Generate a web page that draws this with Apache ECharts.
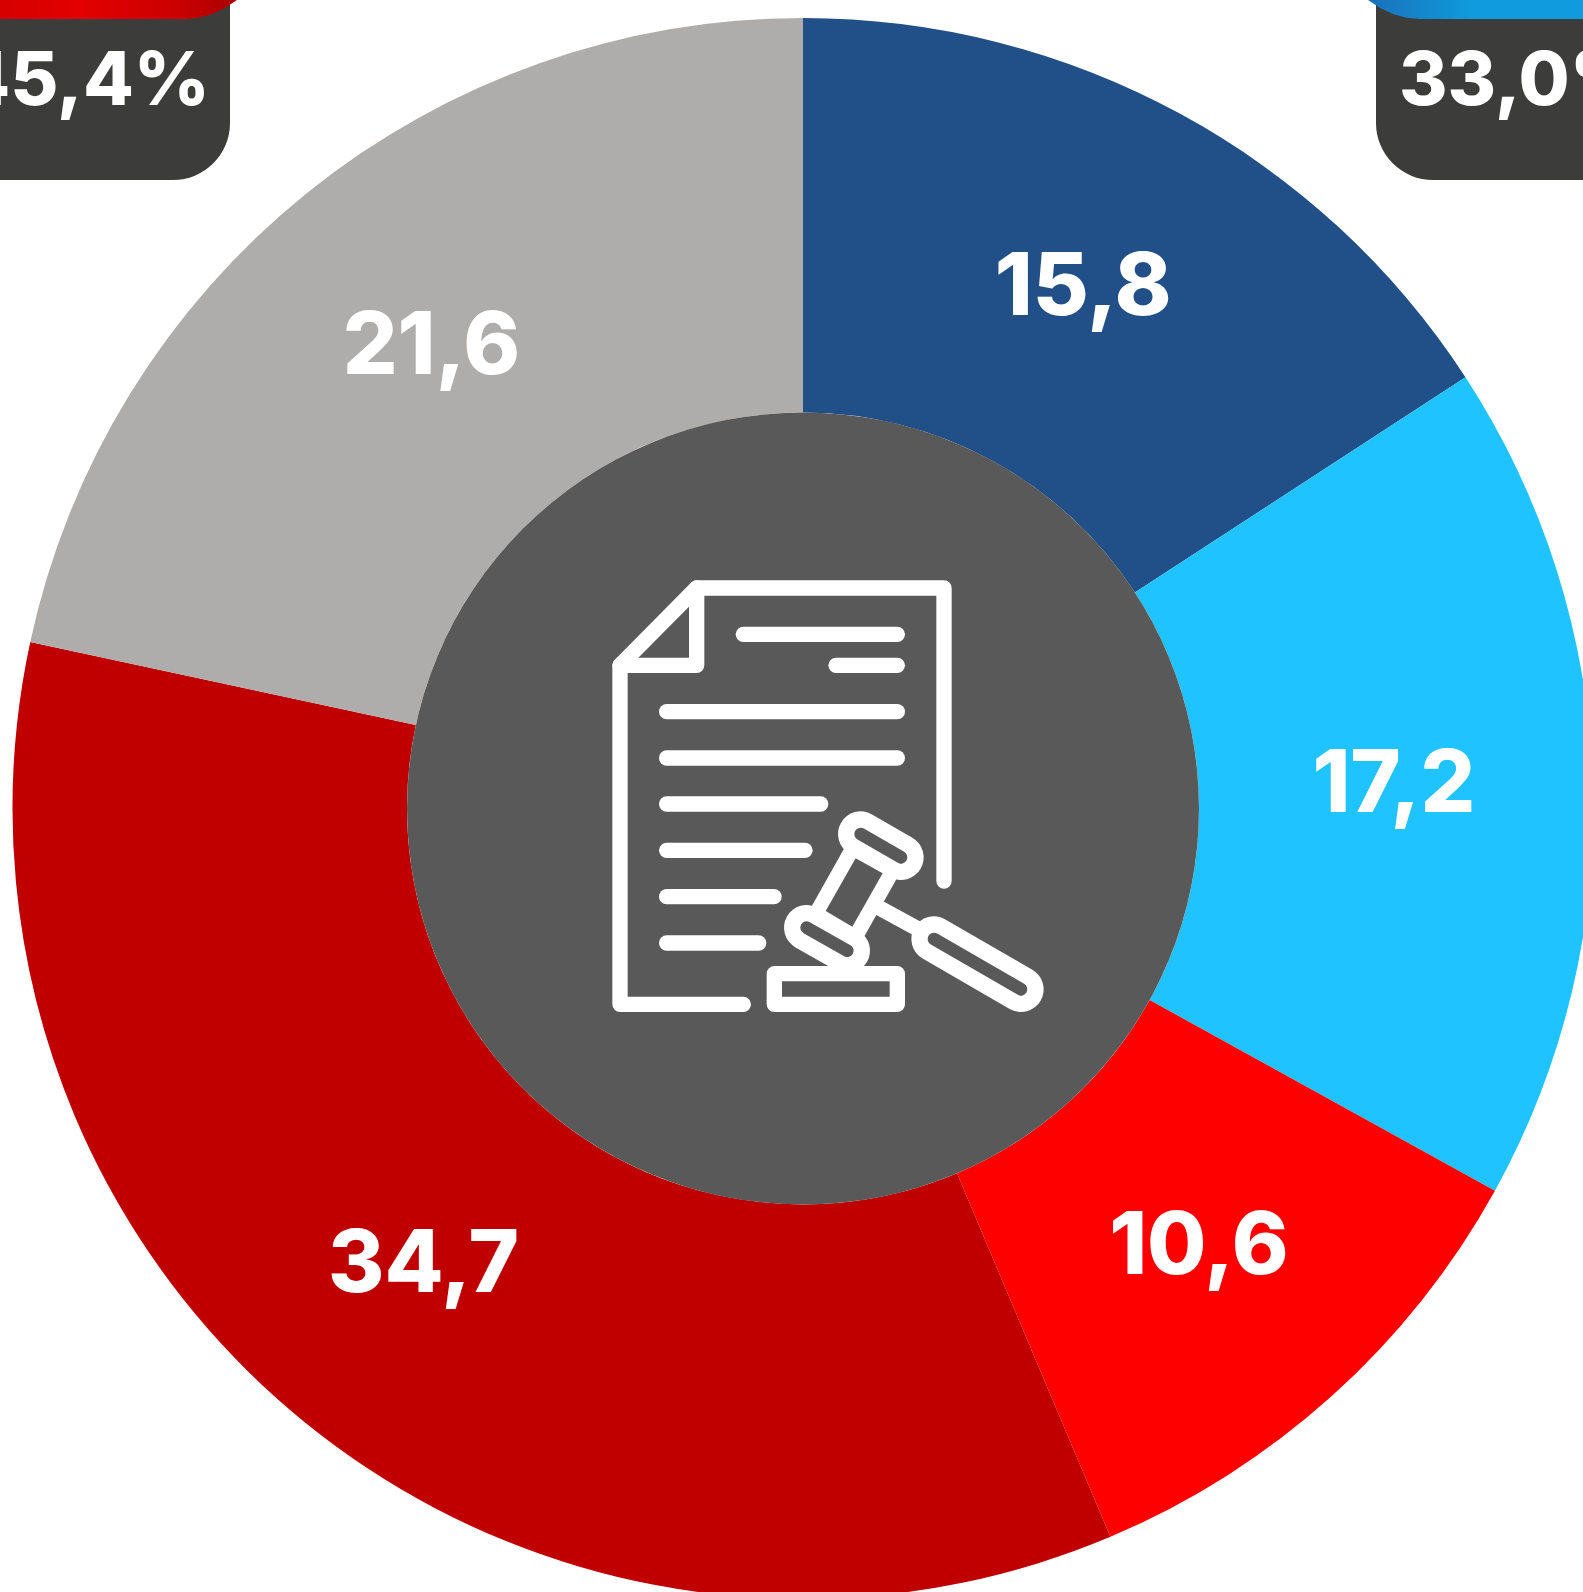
<!DOCTYPE html>
<html>
<head>
<meta charset="utf-8">
<title>Donut</title>
<style>
    html, body { margin: 0; padding: 0; background: #fff; overflow: hidden; }
    #chart { width: 1583px; height: 1592px; }
</style>
<script src="https://cdn.jsdelivr.net/npm/echarts@6/dist/echarts.min.js"></script>
</head>
<body>
<div id="chart"></div>
<script>
// 数据
var categories = ["a", "b", "c", "d", "e"];
var values = [15.8, 17.2, 10.6, 34.7, 21.6];
var colors = ["#215088", "#1EC3FF", "#FF0000", "#C00000", "#AEADAB"];
var leftTotal = "45,4%";
var rightTotal = "33,0%";

var FONT = "Inter, 'Open Sans', sans-serif";
var DARK = "#3C3C3B";
var DISC = "#595959";
// 标签微调
var labelNudge = [[-4, 5], [-5, -1], [-3, -4], [1, -2], [3, 4]];

var myChart = echarts.init(document.getElementById("chart"));

// 小锤子和文件图标, 坐标系是 3 倍的
function stroke(points, width, color) {
    return {
        type: "polyline",
        shape: { points: points },
        style: { fill: null, stroke: color, lineWidth: width, lineCap: "round", lineJoin: "round" },
    };
}
function poly(points, color) {
    return { type: "polygon", shape: { points: points }, style: { fill: color } };
}
var docLines = [
    [460, 922, 223], [738, 922, 316], [230, 922, 455], [230, 922, 594],
    [230, 692, 732], [230, 645, 871], [230, 552, 1010], [230, 506, 1149],
];
var iconChildren = [
    stroke([[460, 1333], [90, 1333], [90, 316], [320, 84], [1062, 84], [1062, 963]], 46, "#fff"),
    stroke([[320, 84], [320, 316], [90, 316]], 46, "#fff"),
    stroke([[553, 1241], [922, 1241], [922, 1333], [553, 1333], [553, 1241]], 46, "#fff"),
    stroke([[870, 1045], [980, 1105]], 46, "#fff"),
    poly([[767, 857], [925, 947], [818, 1138], [660, 1048]], "#fff"),
    poly([[797, 895], [878, 940], [787, 1100], [707, 1053]], DISC),
    stroke([[812, 822], [933, 892]], 136, "#fff"),
    stroke([[812, 822], [933, 892]], 38, DISC),
    stroke([[650, 1103], [772, 1172]], 136, "#fff"),
    stroke([[650, 1103], [772, 1172]], 38, DISC),
    stroke([[1032, 1137], [1293, 1288]], 136, "#fff"),
    stroke([[1032, 1137], [1293, 1288]], 38, DISC),
].concat(docLines.map(function (d) {
    return stroke([[d[0], d[2]], [d[1], d[2]]], 46, "#fff");
}));
// 子元素要自己设置 z, 不然在圆的下面
iconChildren.forEach(function (el) {
    el.z = 5;
});

var option = {
    animation: false,
    backgroundColor: "#fff",
    series: [
        {
            type: "pie",
            center: [803, 808.5],
            radius: [396, 790.5],
            startAngle: 90,
            clockwise: true,
            silent: true,
            data: categories.map(function (name, i) {
                return { name: name, value: values[i], itemStyle: { color: colors[i] } };
            }),
            label: {
                show: true,
                position: "inside",
                color: "#fff",
                fontFamily: FONT,
                fontWeight: 800,
                fontSize: 86,
                formatter: function (params) {
                    return params.value.toFixed(1).replace(".", ",");
                },
            },
            labelLayout: function (params) {
                return { dx: labelNudge[params.dataIndex][0], dy: labelNudge[params.dataIndex][1] };
            },
            labelLine: { show: false },
        },
    ],
    graphic: [
        // 左上角卡片
        { type: "rect", shape: { x: -80, y: -80, width: 310, height: 260, r: 57 }, style: { fill: DARK }, z: 1 },
        {
            type: "polygon",
            shape: { points: [[-10, -2], [240, -2], [237, 0], [224.4, 8.3], [211.5, 14.3], [198.4, 17.8], [185, 19], [-10, 19]] },
            style: {
                fill: new echarts.graphic.LinearGradient(0, 0, 1, 0, [
                    { offset: 0, color: "#D40000" },
                    { offset: 0.35, color: "#E30000" },
                    { offset: 0.75, color: "#CC0000" },
                    { offset: 1, color: "#A80000" },
                ]),
            },
            z: 2,
        },
        {
            type: "text",
            style: { text: leftTotal, x: 210, y: 83, align: "right", verticalAlign: "middle", fill: "#fff", font: "800 74px " + FONT },
            z: 3,
        },
        // 右上角卡片
        { type: "rect", shape: { x: 1376, y: -80, width: 310, height: 260, r: 57 }, style: { fill: DARK }, z: 1 },
        {
            type: "polygon",
            shape: { points: [[1600, -2], [1365, -2], [1368, 0], [1380.6, 8.3], [1393.5, 14.3], [1406.6, 17.8], [1420, 19], [1600, 19]] },
            style: {
                fill: new echarts.graphic.LinearGradient(0, 0, 1, 0, [
                    { offset: 0, color: "#1B6FB8" },
                    { offset: 0.45, color: "#0F9BDD" },
                    { offset: 1, color: "#0F9BDD" },
                ]),
            },
            z: 2,
        },
        {
            type: "text",
            style: { text: rightTotal, x: 1399, y: 83, align: "left", verticalAlign: "middle", fill: "#fff", font: "800 74px " + FONT },
            z: 3,
        },
        // 中间圆
        { type: "circle", shape: { cx: 803, cy: 808.5, r: 396 }, style: { fill: DISC }, z: 4 },
        { type: "group", x: 590, y: 560, scaleX: 1 / 3, scaleY: 1 / 3, z: 5, children: iconChildren },
    ],
};
myChart.setOption(option);
</script>
</body>
</html>
